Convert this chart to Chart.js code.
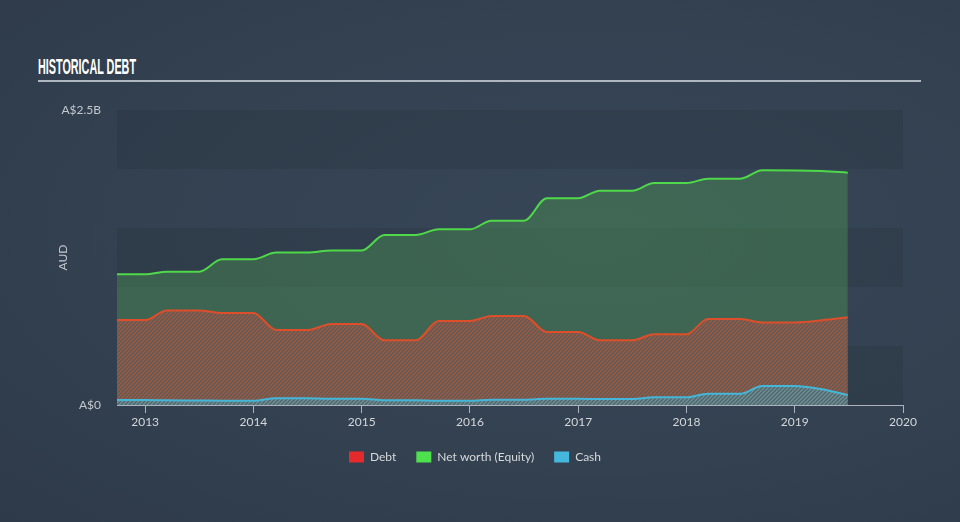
<!DOCTYPE html>
<html><head><meta charset="utf-8">
<script src="https://cdn.jsdelivr.net/npm/chart.js@4.4.1/dist/chart.umd.min.js"></script>
<style>
html,body{margin:0;padding:0;width:960px;height:522px;overflow:hidden;
background: radial-gradient(ellipse at 62% 45%, #374657 0%, #334151 55%, #2e3a4a 100%);}
#title{position:absolute;left:38px;top:55px;font-family:"Liberation Sans Narrow","Liberation Sans",sans-serif;font-weight:bold;font-size:22px;color:#ffffff;transform-origin:0 0;white-space:nowrap;line-height:24px;}
#rule{position:absolute;left:38px;top:80px;width:883px;height:2px;background:#aeb6bf;}
#wrap{position:absolute;left:0;top:0;width:960px;height:522px;}
</style></head>
<body>
<div id="title">HISTORICAL DEBT</div>
<div id="rule"></div>
<div id="wrap"><canvas id="c" width="960" height="522"></canvas></div>
<script>
// ---- data (values in A$ billions, x in decimal years) ----
const dates  = [2012.74, 2013.0, 2013.2, 2013.5, 2013.71, 2014.0, 2014.21, 2014.5, 2014.72, 2015.0, 2015.21, 2015.5, 2015.71, 2016.0, 2016.2, 2016.5, 2016.71, 2017.0, 2017.2, 2017.5, 2017.7, 2018.0, 2018.2, 2018.5, 2018.7, 2019.0, 2019.25, 2019.49];
const debt   = [0.72, 0.72, 0.80, 0.80, 0.78, 0.78, 0.636, 0.636, 0.686, 0.686, 0.548, 0.548, 0.712, 0.712, 0.754, 0.754, 0.619, 0.619, 0.548, 0.548, 0.60, 0.60, 0.729, 0.729, 0.70, 0.70, 0.718, 0.743];
const equity = [1.108, 1.108, 1.13, 1.13, 1.235, 1.235, 1.292, 1.292, 1.31, 1.31, 1.441, 1.441, 1.489, 1.489, 1.562, 1.562, 1.752, 1.752, 1.816, 1.816, 1.881, 1.881, 1.918, 1.918, 1.989, 1.988, 1.982, 1.969];
const cash   = [0.042, 0.042, 0.040, 0.038, 0.036, 0.036, 0.058, 0.058, 0.052, 0.052, 0.040, 0.040, 0.035, 0.035, 0.045, 0.045, 0.052, 0.052, 0.051, 0.051, 0.065, 0.065, 0.096, 0.096, 0.161, 0.161, 0.133, 0.085];
const seriesNames = ['Debt', 'Net worth (Equity)', 'Cash'];
const xYears = [2013, 2014, 2015, 2016, 2017, 2018, 2019, 2020];
const yTickLabels = {0: 'A$0', 2.5: 'A$2.5B'};
const yAxisTitle = 'AUD';
const xMin = 2012.74, xMax = 2020;

// ---- styles ----
const legendColors = ['#e52a2c', '#4fe04e', '#45b7dc'];
const lineColors = ['#dd4f2a', '#4fd84a', '#46b6d8'];

function hatch(bg, stripe){
  const c = document.createElement('canvas'); c.width = 4; c.height = 4;
  const g = c.getContext('2d');
  g.fillStyle = bg; g.fillRect(0,0,4,4);
  g.strokeStyle = stripe; g.lineWidth = 1.3;
  g.beginPath();
  g.moveTo(0,4); g.lineTo(4,0);
  g.moveTo(-1,1); g.lineTo(1,-1);
  g.moveTo(3,5); g.lineTo(5,3);
  g.stroke();
  return g.createPattern(c, 'repeat');
}

const pts = arr => arr.map((v,i) => ({x: dates[i], y: v}));

const bands = {
  id: 'bands',
  beforeDatasetsDraw(chart){
    const {ctx, chartArea: a, scales: {y}} = chart;
    ctx.save();
    const ticks = y.ticks.map(t => t.value);
    for (let i = 0; i < ticks.length - 1; i++){
      const top = y.getPixelForValue(ticks[i+1]), bot = y.getPixelForValue(ticks[i]);
      ctx.fillStyle = i % 2 === 0 ? 'rgba(0,0,0,0.075)' : 'rgba(255,255,255,0.0)';
      ctx.fillRect(a.left, top, a.right - a.left, bot - top);
    }
    ctx.restore();
  }
};

// centre the legend on the page instead of on the plot box
const legendShift = {
  id: 'legendShift',
  afterLayout(chart){
    const lg = chart.legend;
    if (!lg) return;
    const pageCentre = chart.width / 2 - 5;
    const cur = (lg.left + lg.right) / 2;
    const d = pageCentre - cur;
    lg.left += d; lg.right += d;
  }
};

const chart = new Chart(document.getElementById('c'), {
  type: 'line',
  data: {
    datasets: [
      {label: seriesNames[0], data: pts(debt), borderColor: lineColors[0], borderWidth: 2,
       backgroundColor: hatch('rgb(88,92,90)', 'rgb(166,88,62)'), fill: 'origin', order: 2},
      {label: seriesNames[1], data: pts(equity), borderColor: lineColors[1], borderWidth: 2,
       backgroundColor: 'rgba(78,155,82,0.40)', fill: 'origin', order: 3},
      {label: seriesNames[2], data: pts(cash), borderColor: lineColors[2], borderWidth: 2,
       backgroundColor: hatch('rgb(84,102,106)', 'rgb(108,146,154)'), fill: 'origin', order: 1}
    ]
  },
  options: {
    responsive: false,
    animation: false,
    devicePixelRatio: 1,
    layout: {padding: {left: 0, right: 57, top: 110, bottom: 49}},
    elements: {point: {radius: 0}, line: {cubicInterpolationMode: 'monotone'}},
    scales: {
      x: {
        type: 'linear', min: xMin, max: xMax,
        ticks: {color: '#d3d7db', font: {family: 'Lato', size: 12}, padding: 2,
                callback: v => String(v)},
        afterBuildTicks: s => { s.ticks = xYears.map(v => ({value: v})); },
        afterFit: s => { s.height = 26; },
        grid: {drawOnChartArea: false, drawTicks: true, tickLength: 8, color: '#aab3bd', lineWidth: 1},
        border: {display: true, color: '#aab3bd', width: 1}
      },
      y: {
        min: 0, max: 2.5,
        ticks: {stepSize: 0.5, color: '#c3c8cd', font: {family: 'Lato', size: 12}, padding: 16,
                callback: v => (yTickLabels[v] !== undefined ? yTickLabels[v] : '')},
        afterFit: s => { s.width = 117; },
        grid: {display: false, drawTicks: false},
        border: {display: false},
        title: {display: true, text: yAxisTitle, color: '#c3c8cd', font: {family: 'Lato', size: 12}, padding: {top: 56, bottom: 0}}
      }
    },
    plugins: {
      legend: {
        position: 'bottom',
        labels: {
          boxWidth: 15, boxHeight: 11, padding: 20, color: '#d6d9dc', font: {family: 'Lato', size: 12},
          generateLabels: ch => ch.data.datasets.map((d, i) => ({
            text: d.label, fillStyle: legendColors[i], strokeStyle: legendColors[i], lineWidth: 0,
            datasetIndex: i, hidden: false, fontColor: '#d6d9dc'
          }))
        }
      },
      tooltip: {enabled: false}
    }
  },
  plugins: [bands, legendShift]
});

const t = document.getElementById('title');
const w = t.getBoundingClientRect().width;
t.style.transform = 'scaleX(' + (98 / w) + ')';
</script>
</body></html>
